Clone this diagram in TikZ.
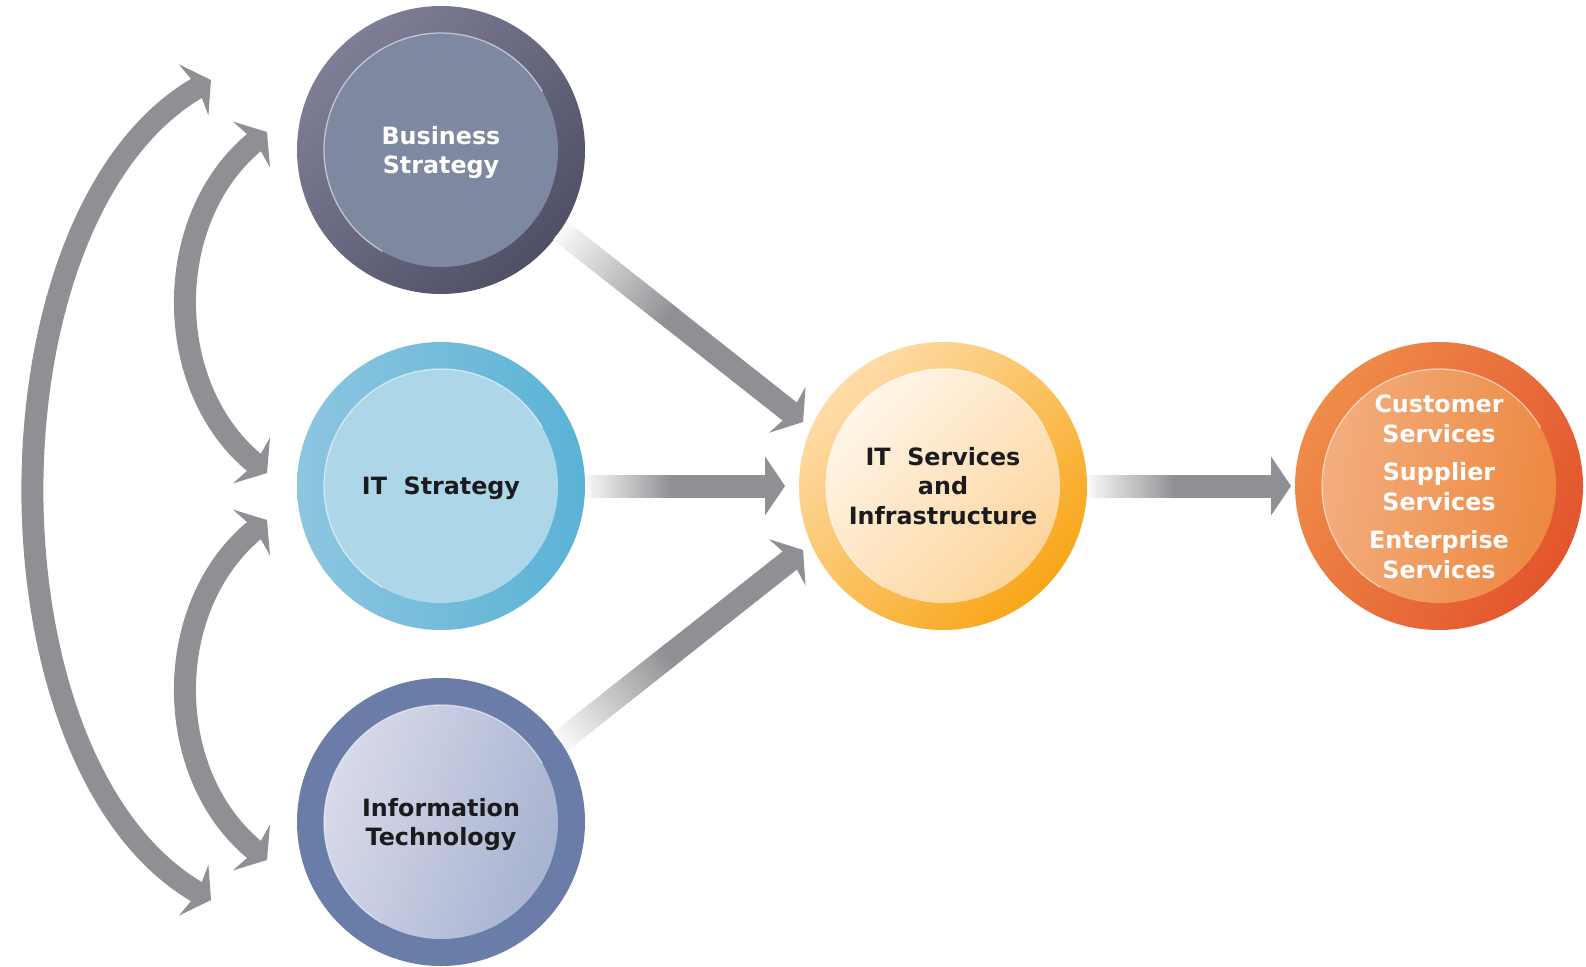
\documentclass[tikz,border=0pt]{standalone}
\usepackage{fontspec}
\setmainfont{DejaVu Sans}
\usetikzlibrary{calc}
\definecolor{agray}{HTML}{8F9093}
\definecolor{bsA}{HTML}{7E7E96}
\definecolor{bsB}{HTML}{4F4F66}
\definecolor{bsIn}{HTML}{7F88A1}
\definecolor{isA}{HTML}{8DC6E0}
\definecolor{isB}{HTML}{5AB2D6}
\definecolor{isIn}{HTML}{ADD7E9}
\definecolor{itRing}{HTML}{6A7DA8}
\definecolor{itA}{HTML}{D8DAEA}
\definecolor{itB}{HTML}{A7B3D0}
\definecolor{svA}{HTML}{FEDCA8}
\definecolor{svB}{HTML}{F8A618}
\definecolor{svInA}{HTML}{FFF5E8}
\definecolor{svInB}{HTML}{FDD59C}
\definecolor{csA}{HTML}{EF8C48}
\definecolor{csB}{HTML}{E3552E}
\definecolor{csInA}{HTML}{F3AE7E}
\definecolor{csInB}{HTML}{ED8840}
\definecolor{txt}{HTML}{1B1B1D}

\tikzset{
  ring/.style={circle, inner sep=0pt, outer sep=0pt, minimum size=288pt},
  core/.style={circle, inner sep=0pt, outer sep=0pt, minimum size=234pt},
  lbl/.style={font=\bfseries\fontsize{23.8pt}{29.5pt}\selectfont, align=center, inner sep=0pt},
  shaftline/.style={line width=23pt},
  arcline/.style={line width=22pt, agray},
  hl/.style={white, line width=1.3pt, opacity=0.55},
}

% arrow head: #1 tip, #2 back reference, #3 notch distance
\newcommand\myhead[3]{%
  \fill[agray] (#1) -- ($(#1)!35.6pt!55.9:(#2)$) -- ($(#1)!#3pt!(#2)$) -- ($(#1)!35.6pt!-55.9:(#2)$) -- cycle;}

% straight arrow with fading shaft: #1 start, #2 tip, #3 shaft end distance, #4 notch
\newcommand\myarrow[4]{%
  \coordinate (tmpE) at ($(#2)!#3pt!(#1)$);
  \foreach \i in {0,...,47}{%
    \pgfmathsetmacro\fa{\i*0.01}%
    \pgfmathsetmacro\fb{\i*0.01+0.02}%
    \pgfmathsetmacro\cc{5+95*\i/47}%
    \draw[shaftline, agray!\cc!white] ($(#1)!\fa!(tmpE)$) -- ($(#1)!\fb!(tmpE)$);}
  \draw[shaftline, agray] ($(#1)!0.48!(tmpE)$) -- (tmpE);
  \myhead{#2}{#1}{#4}}

\begin{document}
\begin{tikzpicture}[x=1pt,y=-1pt]
\useasboundingbox (0,0) rectangle (1586,966);
\fill[white] (0,0) rectangle (1586,966);

% Business Strategy
\node[ring, top color=bsA, bottom color=bsB, shading angle=45] (bs) at (441,150) {};
\node[core, fill=bsIn] (bsc) at (bs) {};
\draw[hl] (bsc.30) arc[start angle=-30, end angle=-240, radius=117];
\node[lbl, white] (bst) at (441,152.5) {Business\\Strategy};

% IT Strategy
\node[ring, top color=isA, bottom color=isB, shading angle=90] (is) at (441,486) {};
\node[core, fill=isIn] (isc) at (is) {};
\draw[hl] (isc.30) arc[start angle=-30, end angle=-240, radius=117];
\node[lbl, txt] (ist) at (441,488.5) {IT\ \ Strategy};

% Information Technology
\node[ring, fill=itRing] (it) at (441,822) {};
\node[core, top color=itA, bottom color=itB, shading angle=70] (itc) at (it) {};
\draw[hl] (itc.30) arc[start angle=-30, end angle=-240, radius=117];
\node[lbl, txt] (itt) at (441,824.5) {Information\\Technology};

% IT Services and Infrastructure
\node[ring, top color=svA, bottom color=svB, shading angle=45] (its) at (943,486) {};
\node[core, top color=svInA, bottom color=svInB, shading angle=45] (itsc) at (its) {};
\draw[hl] (itsc.30) arc[start angle=-30, end angle=-240, radius=117];
\node[lbl, txt] (itst) at (943,486) {IT\ \ Services\\and\\Infrastructure};

% Customer / Supplier / Enterprise Services
\node[ring, top color=csA, bottom color=csB, shading angle=60] (cs) at (1439,486) {};
\node[core, top color=csInA, bottom color=csInB, shading angle=80] (csc) at (cs) {};
\draw[hl] (csc.30) arc[start angle=-30, end angle=-240, radius=117];
\node[lbl, white] (cst) at (1439,487) {Customer\\Services\\[9pt]Supplier\\Services\\[9pt]Enterprise\\Services};

% straight arrows
\coordinate (s1) at (bs.-34);   \coordinate (t1) at (803,422);
\coordinate (s2) at (is.east);  \coordinate (t2) at (785,486);
\coordinate (s3) at (it.34);    \coordinate (t3) at (803,550);
\coordinate (s4) at (its.east); \coordinate (t4) at (1291,486);
\myarrow{s1}{t1}{14}{15}
\myarrow{s2}{t2}{18}{20}
\myarrow{s3}{t3}{14}{15}
\myarrow{s4}{t4}{18}{20}

% outer curved double arrow
\coordinate (oT) at (211,80);  \coordinate (oTb) at (124,130);
\coordinate (oB) at (211,900); \coordinate (oBb) at (124,850);
\coordinate (oTe) at ($(oT)!14pt!(oTb)$); \coordinate (oTc) at ($(oT)!270pt!(oTb)$);
\coordinate (oBe) at ($(oB)!14pt!(oBb)$); \coordinate (oBc) at ($(oB)!270pt!(oBb)$);
\draw[arcline] (oBe) .. controls (oBc) and (oTc) .. (oTe);
\myhead{oT}{oTb}{15}
\myhead{oB}{oBb}{15}

% upper inner curved double arrow
\coordinate (uT) at (267,132); \coordinate (uTb) at (189,195);
\coordinate (uB) at (267,473); \coordinate (uBb) at (189,410);
\coordinate (uTe) at ($(uT)!14pt!(uTb)$); \coordinate (uTc) at ($(uT)!136pt!(uTb)$);
\coordinate (uBe) at ($(uB)!14pt!(uBb)$); \coordinate (uBc) at ($(uB)!136pt!(uBb)$);
\draw[arcline] (uBe) .. controls (uBc) and (uTc) .. (uTe);
\myhead{uT}{uTb}{15}
\myhead{uB}{uBb}{15}

% lower inner curved double arrow
\coordinate (lT) at (267,520); \coordinate (lTb) at (189,583);
\coordinate (lB) at (267,860); \coordinate (lBb) at (189,797);
\coordinate (lTe) at ($(lT)!14pt!(lTb)$); \coordinate (lTc) at ($(lT)!136pt!(lTb)$);
\coordinate (lBe) at ($(lB)!14pt!(lBb)$); \coordinate (lBc) at ($(lB)!136pt!(lBb)$);
\draw[arcline] (lBe) .. controls (lBc) and (lTc) .. (lTe);
\myhead{lT}{lTb}{15}
\myhead{lB}{lBb}{15}
\end{tikzpicture}
\end{document}
